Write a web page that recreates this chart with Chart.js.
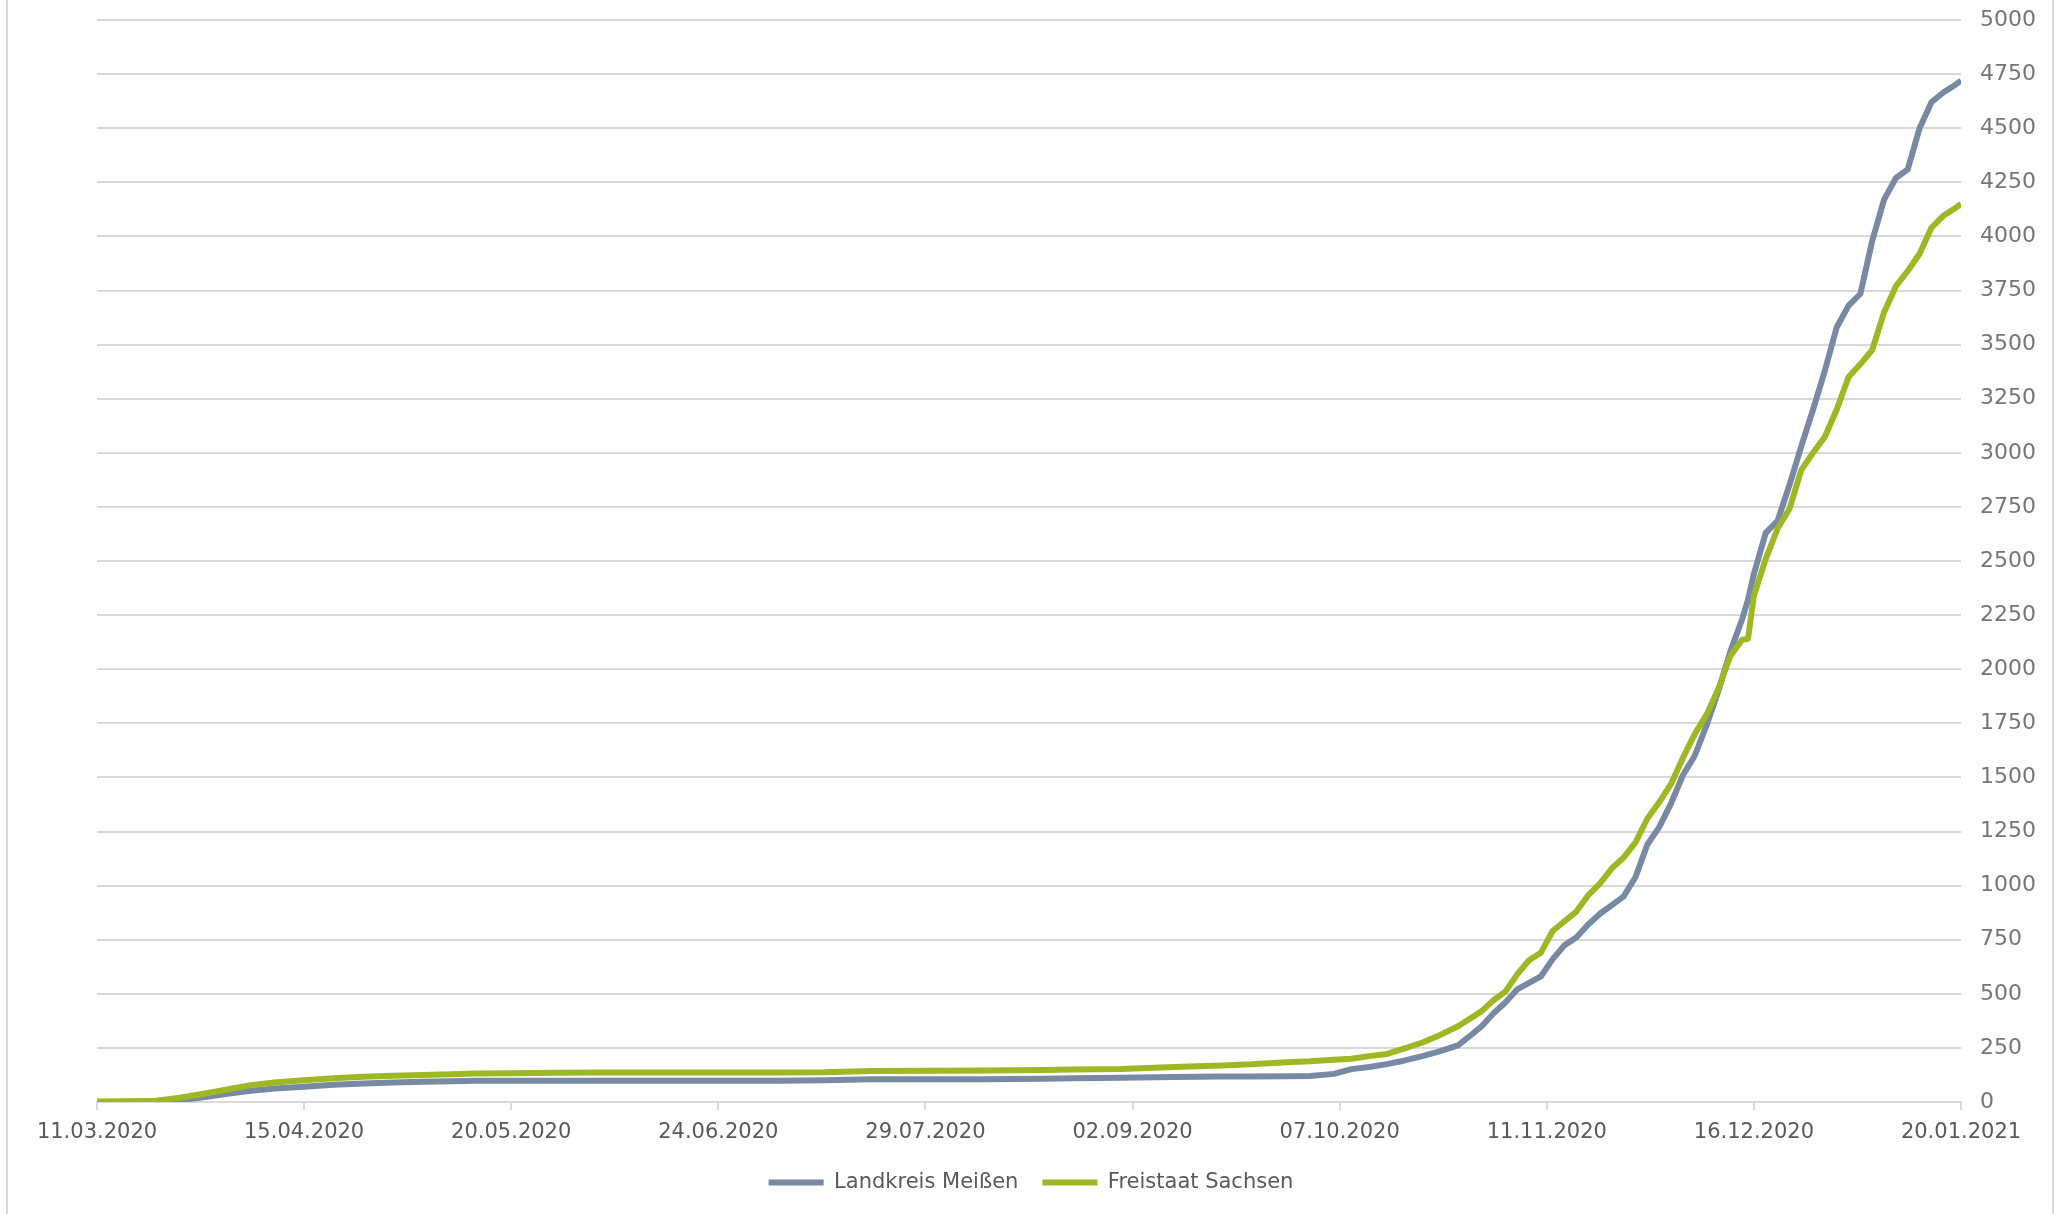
<html>

<head>
    <title>Landkreis Meißen - Freistaat Sachsen</title>
    <script src="https://cdn.jsdelivr.net/npm/chart.js"></script>
</head>

<style>
    body {
        margin: 0;
        overflow: hidden;
        background-color: #ffffff;
    }

    #wrap {
        position: relative;
        width: 2058px;
        height: 1214px;
    }

    #myChart {
        display: block;
    }

    #frame {
        position: absolute;
        left: 6px;
        top: 0;
        width: 2048px;
        height: 1214px;
        box-sizing: border-box;
        border-left: 2px solid #d9d9d9;
        border-right: 2px solid #d9d9d9;
        pointer-events: none;
    }
</style>

<body>
    <div id="wrap">
        <canvas id="myChart" width="2058" height="1214"></canvas>
        <div id="frame"></div>
    </div>

    <script>
        // days since 11.03.2020
        const days = [0, 5, 10, 14, 18, 22, 26, 30, 35, 40,
            45, 50, 55, 60, 64, 70, 78, 85, 95, 105,
            115, 123, 131, 140, 150, 160, 165, 173, 182, 190,
            195, 201, 205, 209, 212, 215, 218, 221, 224, 227,
            230, 232, 234, 236, 238, 240, 242, 244, 246, 248,
            250, 252, 254, 256, 258, 260, 262, 264, 266, 268,
            270, 272, 274, 276, 278, 279, 280, 282, 284, 286,
            288, 290, 292, 294, 296, 298, 300, 302, 304, 306,
            308, 310, 312, 314, 315];

        const meissen = [0, 0, 2, 8, 22, 38, 52, 62, 71, 80,
            86, 90, 94, 96, 98, 98, 98, 98, 98, 98,
            98, 100, 105, 105, 105, 108, 110, 112, 116, 118,
            118, 119, 120, 130, 152, 162, 175, 192, 212, 235,
            262, 305, 350, 410, 460, 520, 550, 580, 660, 725,
            760, 820, 870, 910, 950, 1040, 1190, 1270, 1380, 1510,
            1600, 1740, 1900, 2080, 2230, 2320, 2440, 2630, 2685, 2850,
            3030, 3200, 3380, 3580, 3680, 3735, 3980, 4170, 4270, 4310,
            4500, 4620, 4665, 4700, 4720];

        const sachsen = [2, 3, 6, 20, 38, 58, 78, 90, 100, 110,
            117, 121, 125, 128, 132, 133, 135, 136, 136, 136,
            136, 137, 143, 144, 145, 148, 150, 153, 162, 169,
            174, 184, 188, 195, 200, 212, 222, 248, 275, 310,
            350, 385, 420, 470, 510, 590, 655, 690, 790, 835,
            880, 955, 1010, 1080, 1130, 1200, 1310, 1385, 1470, 1590,
            1700, 1790, 1910, 2060, 2136, 2140, 2340, 2510, 2650, 2740,
            2920, 3000, 3074, 3200, 3350, 3410, 3475, 3650, 3770, 3840,
            3920, 4040, 4095, 4130, 4150];

        const tickLabels = ['11.03.2020', '15.04.2020', '20.05.2020', '24.06.2020', '29.07.2020',
            '02.09.2020', '07.10.2020', '11.11.2020', '16.12.2020', '20.01.2021'];

        Chart.defaults.font.family = '"DejaVu Sans", Verdana, sans-serif';

        const data = {
            datasets: [
                {
                    label: 'Landkreis Meißen',
                    data: days.map((d, i) => ({ x: d, y: meissen[i] })),
                    borderColor: '#7889a4',
                    backgroundColor: '#7889a4',
                    borderWidth: 6,
                    pointStyle: 'line',
                    order: 1
                },
                {
                    label: 'Freistaat Sachsen',
                    data: days.map((d, i) => ({ x: d, y: sachsen[i] })),
                    borderColor: '#9db823',
                    backgroundColor: '#9db823',
                    borderWidth: 6,
                    pointStyle: 'line',
                    order: 0
                }
            ]
        };

        const config = {
            type: 'line',
            data: data,
            options: {
                responsive: false,
                animation: false,
                layout: {
                    padding: { left: 8, right: 4, top: 20, bottom: 11 }
                },
                elements: {
                    point: { radius: 0 },
                    line: { tension: 0, borderJoinStyle: 'round' }
                },
                scales: {
                    x: {
                        type: 'linear',
                        min: 0,
                        max: 315,
                        grid: { drawOnChartArea: false, color: '#d9d9d9', lineWidth: 2, tickLength: 8 },
                        border: { color: '#d9d9d9', width: 2 },
                        ticks: {
                            stepSize: 35,
                            padding: 10,
                            color: '#595959',
                            font: { size: 21 },
                            maxRotation: 0,
                            autoSkip: false,
                            callback: (v) => tickLabels[v / 35]
                        },
                        afterFit: (s) => { s.height = 46; }
                    },
                    y: {
                        position: 'right',
                        min: 0,
                        max: 5000,
                        // invisible tick marks only push the labels to the right
                        grid: { color: '#d9d9d9', lineWidth: 2, drawTicks: true, tickLength: 13, tickColor: 'rgba(0,0,0,0)' },
                        border: { display: false },
                        ticks: {
                            stepSize: 250,
                            padding: 6,
                            color: '#767676',
                            font: { size: 22 },
                            callback: (v) => String(v)
                        },
                        afterFit: (s) => { s.width = 93; }
                    },
                    // empty axis only to keep the left margin
                    yLeft: {
                        position: 'left',
                        grid: { display: false },
                        border: { display: false },
                        ticks: { display: false },
                        afterFit: (s) => { s.width = 89; }
                    }
                },
                plugins: {
                    legend: {
                        position: 'bottom',
                        maxHeight: 66,
                        labels: {
                            usePointStyle: true,
                            pointStyleWidth: 55,
                            padding: 24,
                            color: '#595959',
                            font: { size: 21 },
                            sort: (a, b) => a.datasetIndex - b.datasetIndex
                        }
                    },
                    tooltip: { enabled: false }
                }
            }
        };

        const myChart = new Chart(document.getElementById('myChart'), config);
    </script>
</body>

</html>
